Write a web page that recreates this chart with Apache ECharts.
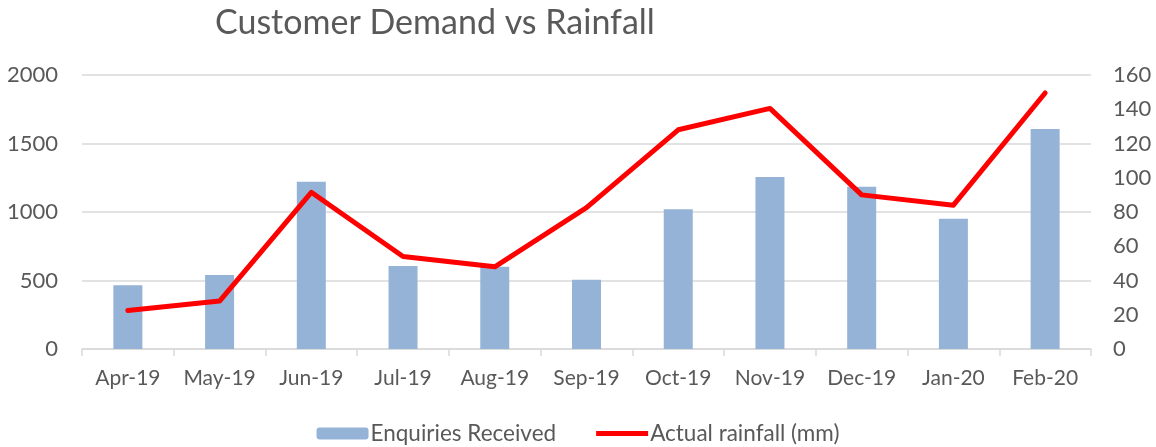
<!DOCTYPE html>
<html>
<head>
<meta charset="utf-8">
<script src="https://cdn.jsdelivr.net/npm/echarts@6/dist/echarts.min.js"></script>
<style>
  html, body { margin: 0; padding: 0; background: #fff; }
  .charts { width: 1156px; height: 447px; }
</style>
</head>
<body>
<div class="charts"></div>
<script>
'use strict';

const months = ['Apr-19', 'May-19', 'Jun-19', 'Jul-19', 'Aug-19', 'Sep-19',
  'Oct-19', 'Nov-19', 'Dec-19', 'Jan-20', 'Feb-20'];
const enquiries = [465, 540, 1220, 605, 600, 505, 1020, 1255, 1185, 950, 1605];
const rainfall = [22.5, 28, 91.5, 54, 48, 82.5, 128, 140.5, 90, 84, 149.5];

const FONT = 'Lato, "Open Sans", sans-serif';
const TEXT = '#595959';

const myChart = echarts.init(document.querySelector('.charts'));

const option = {
  animation: false,
  title: {
    text: 'Customer Demand vs Rainfall',
    left: 210,
    top: 1,
    textStyle: { fontFamily: FONT, fontSize: 34, fontWeight: 'normal', color: TEXT },
  },
  legend: {
    bottom: -3,
    left: 'center',
    itemWidth: 52,
    itemHeight: 12,
    itemGap: 40,
    textStyle: { fontFamily: FONT, fontSize: 22.5, color: TEXT, padding: [0, 0, 0, -3] },
    data: [
      { name: 'Enquiries Received' },
      { name: 'Actual rainfall (mm)', icon: 'path://M0,0h52v5h-52z' },
    ],
  },
  grid: { left: 82, right: 65, top: 75, bottom: 98 },
  xAxis: {
    type: 'category',
    data: months,
    axisLine: { lineStyle: { color: '#d9d9d9', width: 1.5 } },
    axisTick: { show: true, length: 7, lineStyle: { color: '#d9d9d9', width: 1.5 } },
    axisLabel: { fontFamily: FONT, fontSize: 21, color: TEXT, margin: 19, interval: 0 },
  },
  yAxis: [{
    type: 'value',
    min: 0,
    max: 2000,
    interval: 500,
    axisLine: { show: false },
    axisTick: { show: false },
    splitLine: { lineStyle: { color: '#d9d9d9', width: 1.5 } },
    axisLabel: { fontFamily: FONT, fontSize: 22, color: TEXT, margin: 24, formatter: (v) => String(v) },
  }, {
    type: 'value',
    min: 0,
    max: 160,
    interval: 20,
    axisLine: { show: false },
    axisTick: { show: false },
    splitLine: { show: false },
    axisLabel: { fontFamily: FONT, fontSize: 22, color: TEXT, margin: 22 },
  }],
  series: [{
    name: 'Enquiries Received',
    type: 'bar',
    data: enquiries,
    barWidth: 29,
    itemStyle: { color: '#95b3d7' },
  }, {
    name: 'Actual rainfall (mm)',
    type: 'line',
    yAxisIndex: 1,
    data: rainfall,
    symbol: 'none',
    lineStyle: { color: '#ff0000', width: 5, cap: 'round', join: 'round' },
    itemStyle: { color: '#ff0000' },
  }],
};

myChart.setOption(option);
</script>
</body>
</html>
